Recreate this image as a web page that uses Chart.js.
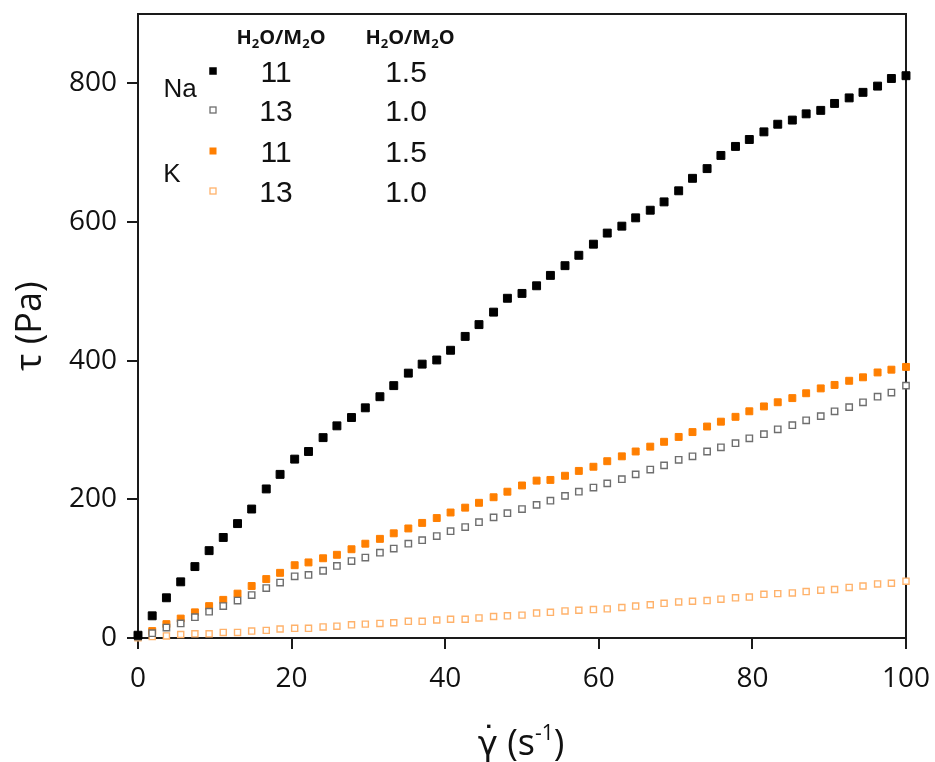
<!DOCTYPE html>
<html>
<head>
<meta charset="utf-8">
<script src="https://cdn.jsdelivr.net/npm/chart.js@4.4.0/dist/chart.umd.min.js"></script>
<style>
  html, body { margin: 0; padding: 0; background: #fff; }
  #wrap { width: 935px; height: 762px; }
</style>
</head>
<body>
<div id="wrap"><canvas id="flowChart" width="935" height="762"></canvas></div>
<script>
// Shear rate ramp (s^-1), shared by all four samples
const shearRate = [
    0, 1.85, 3.7, 5.56, 7.41, 9.26, 11.1, 12.96, 14.8, 16.7,
    18.5, 20.4, 22.2, 24.1, 25.9, 27.8, 29.6, 31.5, 33.3, 35.2,
    37.0, 38.9, 40.7, 42.6, 44.4, 46.3, 48.1, 50.0, 51.9, 53.7,
    55.6, 57.4, 59.3, 61.1, 63.0, 64.8, 66.7, 68.5, 70.4, 72.2,
    74.1, 75.9, 77.8, 79.6, 81.5, 83.3, 85.2, 87.0, 88.9, 90.7,
    92.6, 94.4, 96.3, 98.1, 100
];

// Shear stress (Pa)
const na11 = [
    4, 32, 58, 81, 103, 126, 145, 165, 186, 215,
    236, 258, 269, 289, 306, 318, 332, 348, 364, 382,
    395, 401, 415, 435, 452, 470, 490, 497, 508, 523,
    537, 552, 568, 584, 594, 606, 617, 629, 645, 663,
    677, 696, 709, 719, 730, 741, 747, 756, 761, 771,
    779, 787, 796, 807, 811
];
const na13 = [
    2, 7, 15, 21, 30, 38, 46, 54, 62, 72,
    80, 89, 91, 97, 104, 111, 116, 123, 129, 136,
    141, 147, 154, 160, 167, 174, 180, 186, 192, 198,
    205, 211, 217, 223, 229, 236, 243, 249, 257, 262,
    269, 275, 281, 288, 294, 301, 307, 314, 320, 327,
    333, 340, 348, 354, 364
];
const k11 = [
    3, 10, 20, 28, 37, 46, 55, 64, 75, 85,
    94, 105, 109, 115, 120, 128, 136, 143, 151, 158,
    166, 173, 181, 188, 195, 203, 211, 220, 227, 228,
    234, 241, 247, 255, 262, 269, 276, 283, 290, 297,
    305, 312, 319, 327, 334, 340, 346, 353, 360, 365,
    371, 376, 383, 387, 391
];
const k13 = [
    0.5, 2, 3, 5, 6, 6, 8, 8, 10, 11,
    13, 14, 14, 16, 17, 19, 20, 21, 22, 24,
    24, 26, 27, 27, 29, 31, 32, 33, 36, 37,
    39, 40, 41, 42, 44, 46, 48, 50, 52, 53,
    54, 56, 58, 59, 63, 64, 65, 67, 69, 70,
    73, 75, 78, 79, 82
];

const xTicks = [0, 20, 40, 60, 80, 100];
const yTicks = [0, 200, 400, 600, 800];

// legend table: cation, H2O/M2O, second ratio
const legendCation = ['Na', 'K'];
const legendWater = ['11', '13', '11', '13'];
const legendRatio = ['1.5', '1.0', '1.5', '1.0'];

const BLACK = '#000000';
const GREY = '#6e6e6e';
const ORANGE = '#ff7f00';
const ORANGE_LIGHT = '#ffb26b';

const toPoints = (ys) => shearRate.map((x, i) => ({ x: x, y: ys[i] }));

const styles = [
    { fill: BLACK, stroke: BLACK, open: false, r: 5.6, bw: 1, key: 7.5 },
    { fill: '#ffffff', stroke: GREY, open: true, r: 4.5, bw: 1.4, key: 6 },
    { fill: ORANGE, stroke: ORANGE, open: false, r: 4.9, bw: 1, key: 7 },
    { fill: '#ffffff', stroke: ORANGE_LIGHT, open: true, r: 4.3, bw: 1.4, key: 6 }
];

const series = [na11, na13, k11, k13];

const datasets = series.map((ys, i) => ({
    label: legendCation[i < 2 ? 0 : 1] + ' ' + legendWater[i],
    data: toPoints(ys),
    pointStyle: 'rect',
    pointRadius: styles[i].r,
    pointHoverRadius: styles[i].r,
    pointBorderWidth: styles[i].bw,
    pointBackgroundColor: styles[i].fill,
    pointBorderColor: styles[i].stroke,
    showLine: false,
    clip: false
}));

// box frame, legend table and x-axis title
const decorations = {
    id: 'decorations',
    beforeDatasetsDraw(chart) {
        const { ctx, chartArea: a } = chart;
        ctx.save();
        ctx.strokeStyle = '#1a1a1a';
        ctx.lineWidth = 2;
        ctx.beginPath();
        ctx.moveTo(a.left - 1, a.top);
        ctx.lineTo(a.right, a.top);
        ctx.lineTo(a.right, a.bottom);
        ctx.stroke();
        ctx.restore();
    },
    afterDraw(chart) {
        const { ctx } = chart;
        ctx.save();
        ctx.fillStyle = '#111';

        // column headers with subscripts
        const drawChem = (cx, baseline) => {
            const parts = [['H', 0], ['2', 1], ['O/M', 0], ['2', 1], ['O', 0]];
            const big = 'bold 20px "Open Sans"';
            const small = 'bold 13px "Open Sans"';
            let w = 0;
            parts.forEach(p => { ctx.font = p[1] ? small : big; w += ctx.measureText(p[0]).width; });
            let x = cx - w / 2;
            ctx.textAlign = 'left';
            ctx.textBaseline = 'alphabetic';
            parts.forEach(p => {
                ctx.font = p[1] ? small : big;
                ctx.fillText(p[0], x, baseline + (p[1] ? 4 : 0));
                x += ctx.measureText(p[0]).width;
            });
        };
        drawChem(281, 44);
        drawChem(410, 44);

        const rowY = [71, 110, 151, 191];
        ctx.font = '30px "Liberation Sans"';
        ctx.textAlign = 'center';
        ctx.textBaseline = 'alphabetic';
        rowY.forEach((y, i) => {
            ctx.fillText(legendWater[i], 276, y + 11);
            ctx.fillText(legendRatio[i], 406, y + 11);
        });

        ctx.font = '26px "Liberation Sans"';
        ctx.fillText(legendCation[0], 180, 97);
        ctx.fillText(legendCation[1], 172, 182);

        // legend swatches
        rowY.forEach((y, i) => {
            const s = styles[i];
            const h = s.key / 2;
            if (s.open) {
                ctx.fillStyle = '#fff';
                ctx.fillRect(213 - h, y - h, s.key, s.key);
                ctx.strokeStyle = s.stroke;
                ctx.lineWidth = 1.3;
                ctx.strokeRect(213 - h, y - h, s.key, s.key);
            } else {
                ctx.fillStyle = s.fill;
                ctx.fillRect(213 - h, y - h, s.key, s.key);
            }
        });

        // x-axis title: gamma-dot (s^-1)
        ctx.fillStyle = '#111';
        const gam = '34px "DejaVu Sans"';
        const big = '36px "Open Sans"';
        const sup = '21px "Open Sans"';
        const parts = [['\u03B3', gam, 0], [' (s', big, 0], ['-1', sup, -15], [')', big, 0]];
        let w = 0;
        parts.forEach(p => { ctx.font = p[1]; w += ctx.measureText(p[0]).width; });
        let x = 521 - w / 2;
        const base = 755;
        ctx.textAlign = 'left';
        parts.forEach((p, i) => {
            ctx.font = p[1];
            const pw = ctx.measureText(p[0]).width;
            ctx.fillText(p[0], x, base + p[2]);
            if (i === 0) {
                ctx.textAlign = 'center';
                ctx.fillText('\u02D9', x + pw / 2 + 1, base - 5);
                ctx.textAlign = 'left';
            }
            x += pw;
        });
        ctx.restore();
    }
};

const tickGrid = {
    display: true,
    drawOnChartArea: false,
    drawTicks: true,
    tickLength: 11,
    tickWidth: 2,
    tickColor: '#1a1a1a',
    lineWidth: 2
};

const config = {
    type: 'scatter',
    data: { datasets: datasets },
    options: {
        responsive: false,
        devicePixelRatio: 1,
        animation: false,
        layout: { padding: { top: 14, right: 29, left: 0, bottom: 0 } },
        plugins: {
            legend: { display: false },
            tooltip: { enabled: false }
        },
        scales: {
            x: {
                type: 'linear',
                min: 0,
                max: 100,
                grid: tickGrid,
                border: { display: true, color: '#1a1a1a', width: 2 },
                ticks: {
                    color: '#111',
                    padding: 13,
                    maxRotation: 0,
                    font: { family: '"Open Sans"', size: 28 }
                },
                afterBuildTicks: (scale) => { scale.ticks = xTicks.map(v => ({ value: v })); },
                afterFit: (scale) => {
                    scale.height = 124;
                    scale.paddingLeft = 0;
                    scale.paddingRight = 0;
                }
            },
            y: {
                type: 'linear',
                min: 0,
                max: 900,
                grid: tickGrid,
                border: { display: true, color: '#1a1a1a', width: 2 },
                ticks: {
                    color: '#111',
                    padding: 10,
                    font: { family: '"Open Sans"', size: 28 }
                },
                title: {
                    display: true,
                    text: '\u03C4 (Pa)',
                    color: '#111',
                    font: { family: '"Open Sans"', size: 36 },
                    padding: { top: 9, bottom: 0 }
                },
                afterBuildTicks: (scale) => { scale.ticks = yTicks.map(v => ({ value: v })); },
                afterFit: (scale) => {
                    scale.width = 138;
                    scale.paddingTop = 0;
                    scale.paddingBottom = 0;
                }
            }
        }
    },
    plugins: [decorations]
};

new Chart(document.getElementById('flowChart').getContext('2d'), config);
</script>
</body>
</html>
